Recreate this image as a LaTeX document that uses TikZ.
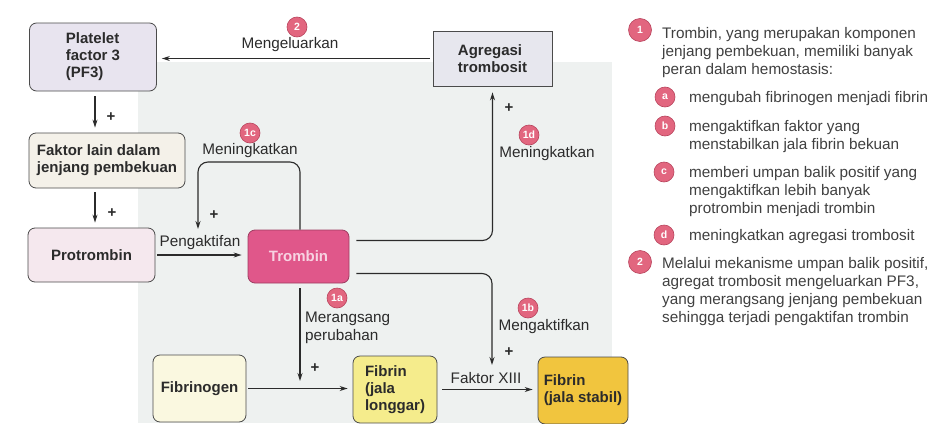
\documentclass[tikz,border=0pt]{standalone}
\usepackage{fontspec}
\setmainfont{Liberation Sans}
\usepackage{tikz}
\usetikzlibrary{arrows.meta,calc,positioning}
\definecolor{HemoInk}{HTML}{2B2B2B}
\definecolor{HemoBadge}{HTML}{E2667F}
\definecolor{HemoBadgeEdge}{HTML}{B8435C}
\definecolor{HemoBack}{HTML}{EEF1F0}
\definecolor{PfLilac}{HTML}{E8E4EF}
\definecolor{AggGrey}{HTML}{E7E7EE}
\definecolor{FakCream}{HTML}{F4F1E9}
\definecolor{ProPink}{HTML}{F5E8EE}
\definecolor{TroPink}{HTML}{E0578A}
\definecolor{TroText}{HTML}{F7D3E2}
\definecolor{FgnCream}{HTML}{FAF8E0}
\definecolor{FibYellow}{HTML}{F5EC8C}
\definecolor{FibGold}{HTML}{F1C53E}

\begin{document}
\begin{tikzpicture}[x=1pt,y=-1pt,
  font=\fontsize{15.3}{18}\selectfont,text=HemoInk,
  box/.style={draw=HemoInk!85,line width=.8pt,rounded corners=7pt,align=left,inner sep=0pt,
    font=\fontsize{15}{17}\selectfont\bfseries},
  arr/.style={draw=HemoInk,line width=1.1pt,-{Stealth[length=8pt,width=5pt]}},
  badge/.style={circle,fill=HemoBadge,draw=HemoBadgeEdge,line width=.6pt,text=white,inner sep=0pt,
    minimum size=20pt,font=\fontsize{10.5}{10.5}\selectfont\bfseries},
  plus/.style={inner sep=0pt,font=\fontsize{15}{15}\selectfont\bfseries},
  note/.style={anchor=base west,align=left,inner sep=0pt,text=HemoInk!90}]
  \useasboundingbox (0,0) rectangle (936,423);
  \fill[HemoBack] (138,62) rectangle (612,423);
  % boxes
  \node[box,fill=PfLilac,minimum width=127pt,minimum height=68pt] (pf3) at (93,57) {Platelet\\factor 3\\(PF3)};
  \node[box,fill=AggGrey,rounded corners=0pt,minimum width=119pt,minimum height=55pt] (agg) at (492.5,58.5) {Agregasi\\trombosit};
  \node[box,fill=FakCream,minimum width=156pt,minimum height=55pt] (fak) at (107,160.5) {Faktor lain dalam\\jenjang pembekuan};
  \node[box,fill=ProPink,minimum width=127pt,minimum height=54pt] (pro) at (91.5,255) {Protrombin};
  \node[box,fill=TroPink,draw=TroPink!70!black,text=TroText,minimum width=101pt,minimum height=53pt] (tro) at (298.5,256.5) {Trombin};
  \node[box,fill=FgnCream,minimum width=93pt,minimum height=67pt] (fgn) at (199.5,388.5) {Fibrinogen};
  \node[box,fill=FibYellow,minimum width=84pt,minimum height=67pt] (lon) at (395,389.5) {Fibrin\\(jala\\longgar)};
  \node[box,fill=FibGold,minimum width=90pt,minimum height=67pt] (sta) at (583,390.5) {Fibrin\\(jala stabil)};
  % release of PF3
  \draw[arr,shorten <=3pt,shorten >=5pt] (agg.west) -- (agg.west -| pf3.east);
  \node[badge] (n2) at (297,27) {2};
  \node (lmeng) at (290,45) {Mengeluarkan};
  % cascade
  \draw[arr,shorten <=5pt,shorten >=5pt] ([xshift=2pt]pf3.south) -- ([xshift=2pt]pf3.south |- fak.north);
  \node[plus] (p1) at (111,117) {+};
  \draw[arr,shorten <=4pt,shorten >=5pt] ([xshift=2pt]pf3.south |- fak.south) -- ([xshift=2pt]pf3.south |- pro.north);
  \node[plus] (p2) at (112,213) {+};
  \draw[arr,shorten <=2pt,shorten >=6pt] (pro.east) -- (pro.east -| tro.west);
  \node (lpeng) at (200,243) {Pengaktifan};
  % 1c feedback loop
  \coordinate (c1c) at (198,229);
  \draw[arr,rounded corners=10pt] ([xshift=1.5pt]tro.north) |- (c1c |- 0,162) -- (c1c);
  \node[plus] (p3) at (214,215) {+};
  \node[badge] (n1c) at (250,133) {1c};
  \node (lmen1) at (250,151) {Meningkatkan};
  % 1d to aggregation
  \draw[arr,rounded corners=10pt,shorten <=7pt,shorten >=6pt] ([yshift=16pt]tro.east) -| (agg.south);
  \node[plus] (p4) at (509,108) {+};
  \node[badge] (n1d) at (529,135) {1d};
  \node (lmen2) at (547,154) {Meningkatkan};
  % 1b activates factor XIII
  \coordinate (c1b) at (492,365);
  \draw[arr,rounded corners=10pt,shorten <=7pt] ([yshift=-17pt]tro.east) -| (c1b);
  \node[plus] (p5) at (509,352) {+};
  \node[badge] (n1b) at (528,308) {1b};
  \node (lakt) at (544,327) {Mengaktifkan};
  % 1a fibrinogen to fibrin
  \coordinate (c1a) at (300,381);
  \draw[arr,shorten <=5pt] ([xshift=1.5pt]tro.south) -- (c1a);
  \node[plus] (p6) at (315,368) {+};
  \node[badge] (n1a) at (337,298) {1a};
  \node[align=left,anchor=west,inner sep=0pt] (lrang) at (305,327.5) {Merangsang\\perubahan};
  \draw[arr,shorten <=2pt,shorten >=5pt] (fgn.east) -- (fgn.east -| lon.west);
  \draw[arr,shorten <=5pt,shorten >=5pt] (lon.east) -- (lon.east -| sta.west);
  \node (lfak) at (486,378) {Faktor XIII};
  % legend (base = last line)
  \node[badge,minimum size=23pt] (k1) at (640,30) {1};
  \node[note] (t1) at (662,74) {Trombin, yang merupakan komponen\\jenjang pembekuan, memiliki banyak\\peran dalam hemostasis:};
  \node[badge] (ka) at (665,97) {a};
  \node[note] (ta) at (689,102) {mengubah fibrinogen menjadi fibrin};
  \node[badge] (kb) at (665,126) {b};
  \node[note] (tb) at (689,149) {mengaktifkan faktor yang\\menstabilkan jala fibrin bekuan};
  \node[badge] (kc) at (664,172) {c};
  \node[note] (tc) at (689,213) {memberi umpan balik positif yang\\mengaktifkan lebih banyak\\protrombin menjadi trombin};
  \node[badge] (kd) at (664,235) {d};
  \node[note] (td) at (689,240) {meningkatkan agregasi trombosit};
  \node[badge,minimum size=23pt] (k2) at (640,262) {2};
  \node[note] (t2) at (662,322) {Melalui mekanisme umpan balik positif,\\agregat trombosit mengeluarkan PF3,\\yang merangsang jenjang pembekuan\\sehingga terjadi pengaktifan trombin};
\end{tikzpicture}
\end{document}
